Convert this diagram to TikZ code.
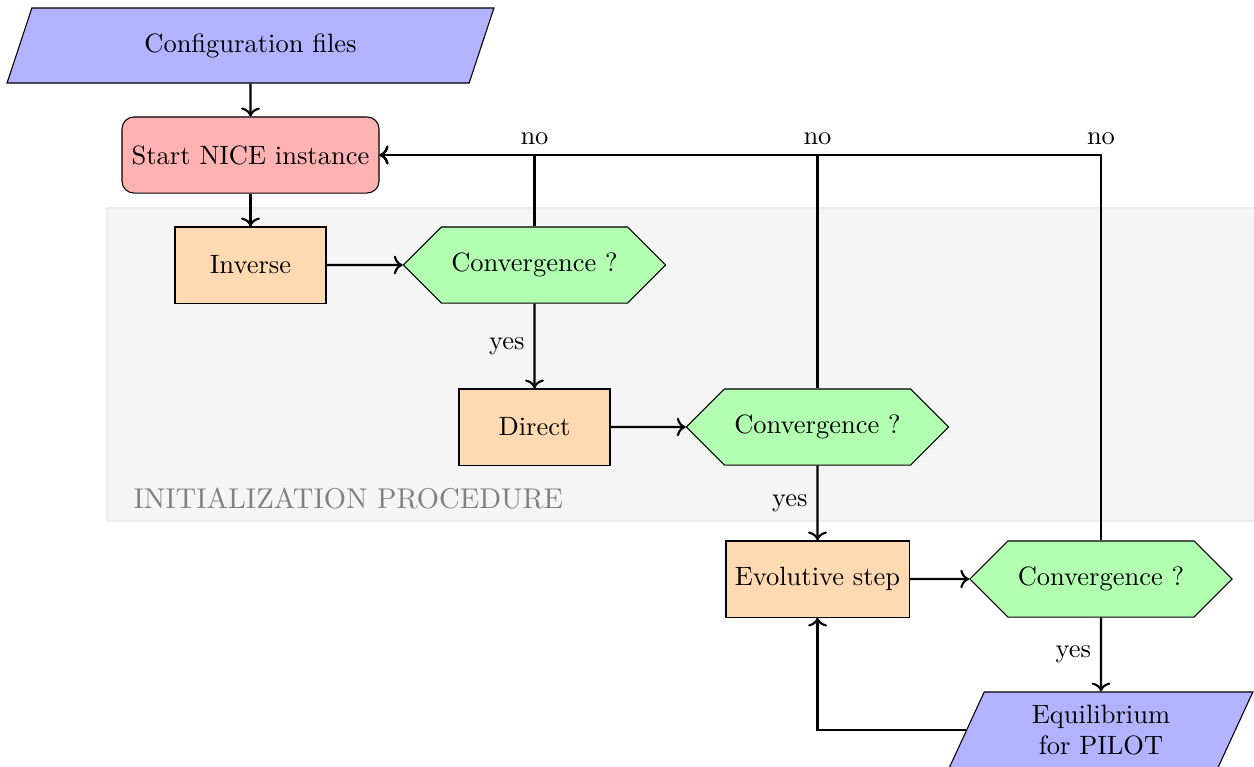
\documentclass[tikz,border=0pt]{standalone}
\usetikzlibrary{shapes.geometric,shapes.symbols,arrows.meta,backgrounds}
\begin{document}
\begin{tikzpicture}[x=0.3774pt,y=-0.3774pt,
  iobox/.style={trapezium, trapezium left angle=70, trapezium right angle=110,
    trapezium stretches=true, draw, fill=blue!30, align=center, inner sep=2pt},
  startbox/.style={rectangle, rounded corners=4.5pt, draw, fill=red!30,
    minimum width=97pt, minimum height=28.7pt},
  procbox/.style={rectangle, draw, fill=orange!30,
    minimum width=57pt, minimum height=28.7pt},
  decision/.style={signal, signal to=east and west, signal pointer angle=90,
    draw, fill=green!30, minimum width=98.9pt, minimum height=28.7pt},
  flow/.style={->, thick}]

\clip (0,0) rectangle (1254,766);

% shaded area behind the initialization steps
\fill[gray!8, draw=gray!15] (107,208) rectangle (1270,521);
\node[anchor=west, inner sep=0pt, text=gray, font=\fontsize{10.8}{13}\selectfont]
  (initlabel) at (133,499) {INITIALIZATION PROCEDURE};

% nodes
\node[iobox, minimum width=185.3pt, minimum height=28.3pt] (config) at (250.5,45.5) {Configuration files};
\node[startbox] (start) at (250.5,155) {Start NICE instance};
\node[procbox] (inverse) at (250.5,265) {Inverse};
\node[decision] (conv1) at (534.5,265) {Convergence ?};
\node[procbox] (direct) at (534.5,427) {Direct};
\node[decision] (conv2) at (817.5,427) {Convergence ?};
\node[procbox] (evo) at (817.5,579) {Evolutive step};
\node[decision] (conv3) at (1101,579) {Convergence ?};
\node[iobox, minimum width=115.5pt, minimum height=28.7pt] (equil) at (1101,730) {Equilibrium\\for PILOT};

% main flow
\draw[flow] (config) -- (start);
\draw[flow] (start) -- (inverse);
\draw[flow] (inverse) -- (conv1);
\draw[flow] (conv1) -- node[left] {yes} (direct);
\draw[flow] (direct) -- (conv2);
\draw[flow] (conv2) -- node[left] {yes} (evo);
\draw[flow] (evo) -- (conv3);
\draw[flow] (conv3) -- node[left] {yes} (equil);
\draw[flow] (equil.west) -| (evo.south);

% restart loops
\draw[flow] (conv1.north) |- node[pos=0.5, above] {no} (start.east);
\draw[flow] (conv2.north) |- node[pos=0.5, above] {no} (start.east);
\draw[flow] (conv3.north) |- node[pos=0.5, above] {no} (start.east);
\end{tikzpicture}
\end{document}
